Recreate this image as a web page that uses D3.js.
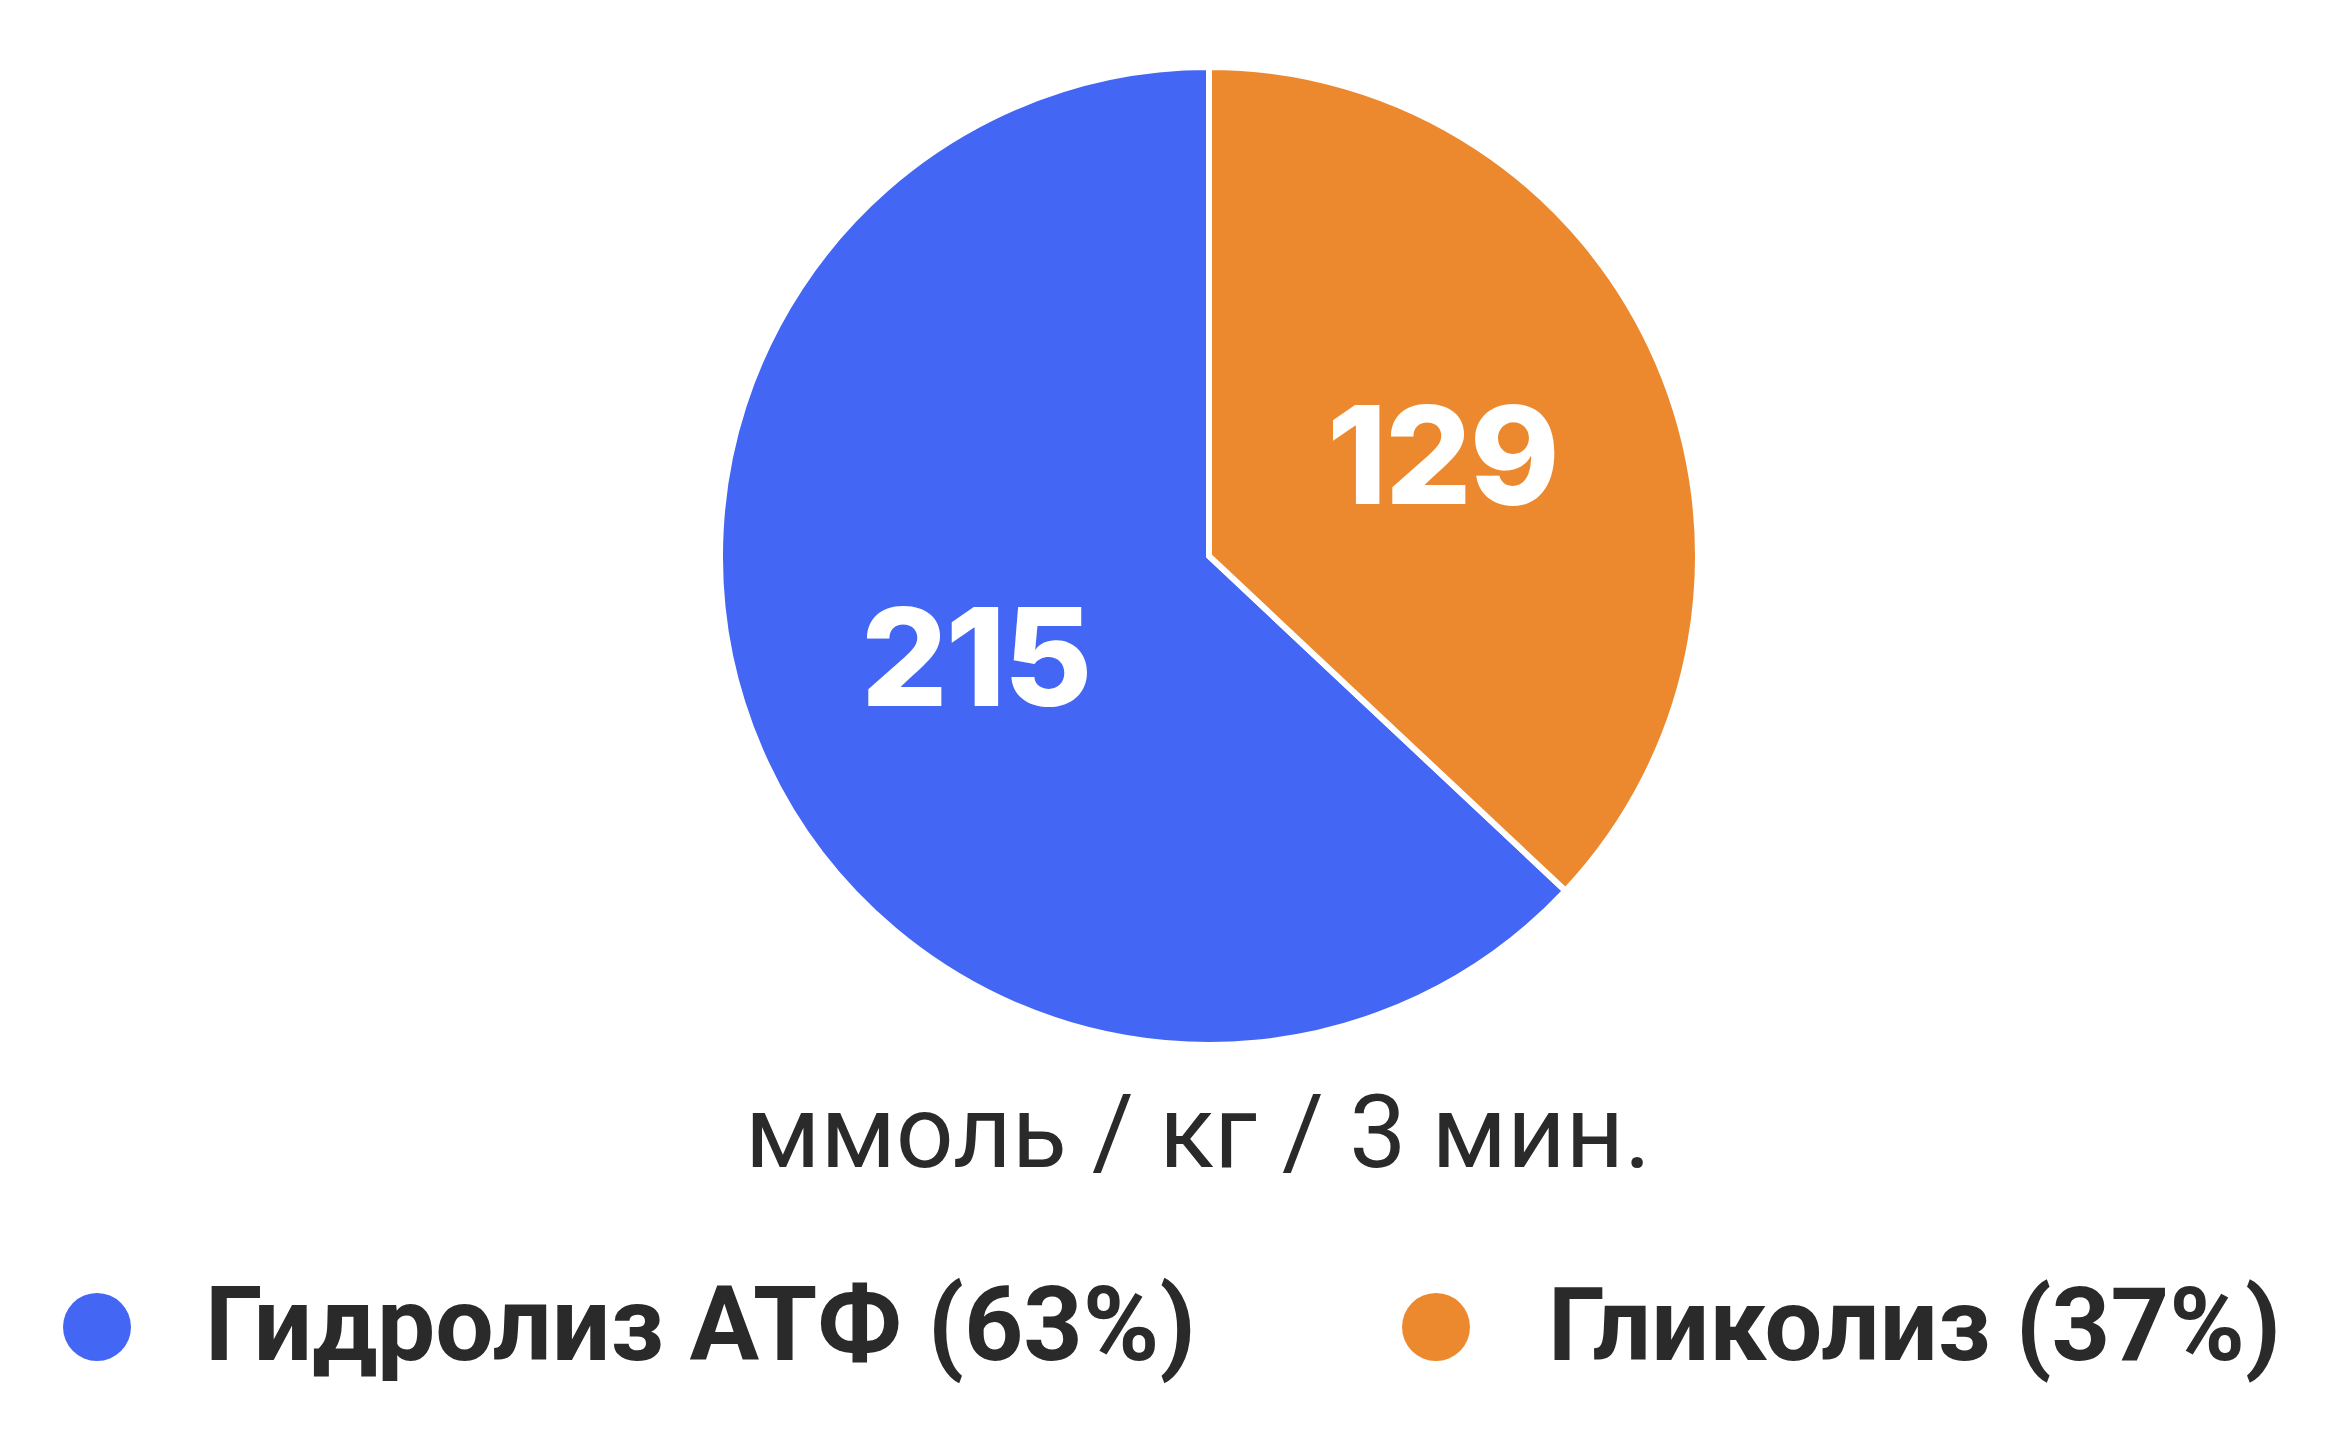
<!DOCTYPE html>
<html><head><meta charset="utf-8">
<script src="https://cdn.jsdelivr.net/npm/d3@7"></script>
<style>html,body{margin:0;padding:0;background:#fff;}svg{display:block;}</style>
</head><body>
<svg id="chart" width="2345" height="1433"></svg>
<script>
const categories = ["Гидролиз АТФ", "Гликолиз"];
const values = [215, 129];
const legendPercents = [63, 37];
const colors = ["#4367F4", "#EC882E"];
const unitLabel = "ммоль / кг / 3 мин.";

const W = 2345, H = 1433;
const svg = d3.select("#chart");
const cx = 1209, cy = 556, R = 489;

// slice sizes follow the legend shares
const totalPct = d3.sum(legendPercents);
const start = 2 * Math.PI * legendPercents[1] / totalPct;
const pie = d3.pie().sort(null).value(d => d.p).startAngle(start).endAngle(start + 2 * Math.PI);
const data = pie(categories.map((c, i) => ({c, v: values[i], p: legendPercents[i], i})));
const arc = d3.arc().innerRadius(0).outerRadius(R);
const labelArc = d3.arc().innerRadius(R * 0.52).outerRadius(R * 0.52);

const g = svg.append("g").attr("transform", `translate(${cx},${cy})`);
g.selectAll("path").data(data).join("path")
  .attr("d", arc)
  .attr("fill", d => colors[d.data.i])
  .attr("stroke", "#fff").attr("stroke-width", 6).attr("stroke-linejoin", "miter");

g.selectAll("text.val").data(data).join("text").attr("class", "val")
  .attr("transform", d => `translate(${labelArc.centroid(d)})`)
  .attr("text-anchor", "middle").attr("dy", "0.36em")
  .attr("fill", "#fff")
  .style("font-family", "Inter, 'Open Sans', sans-serif").style("font-weight", 800)
  .style("font-size", "136px").style("letter-spacing", "-2px")
  .text(d => d.data.v);

function fitText(sel, targetW) {
  const n = sel.node();
  const w = n.getComputedTextLength();
  const fs = parseFloat(sel.style("font-size"));
  sel.style("font-size", (fs * targetW / w) + "px");
}
const unit = svg.append("text").attr("x", 1198).attr("y", 1167)
  .attr("text-anchor", "middle").attr("fill", "#2a2a2a")
  .style("font-family", "Roboto, 'Noto Sans', sans-serif").style("font-weight", 400)
  .style("font-size", "96px").text(unitLabel);
fitText(unit, 906);

// legend
const legX = [97, 1436], textX = [205, 1548], textW = [991, 733];
const leg = svg.selectAll("g.leg").data(categories).join("g").attr("class", "leg");
leg.append("circle").attr("cx", (d, i) => legX[i]).attr("cy", 1327).attr("r", 34)
  .attr("fill", (d, i) => colors[i]);
leg.append("text").attr("x", (d, i) => textX[i]).attr("y", 1360)
  .attr("fill", "#2a2a2a")
  .style("font-family", "Roboto, 'Noto Sans', sans-serif").style("font-weight", 700)
  .style("font-size", "96px")
  .text((d, i) => `${d} (${legendPercents[i]}%)`)
  .each(function(d, i) { fitText(d3.select(this), textW[i]); });
</script>
</body></html>
